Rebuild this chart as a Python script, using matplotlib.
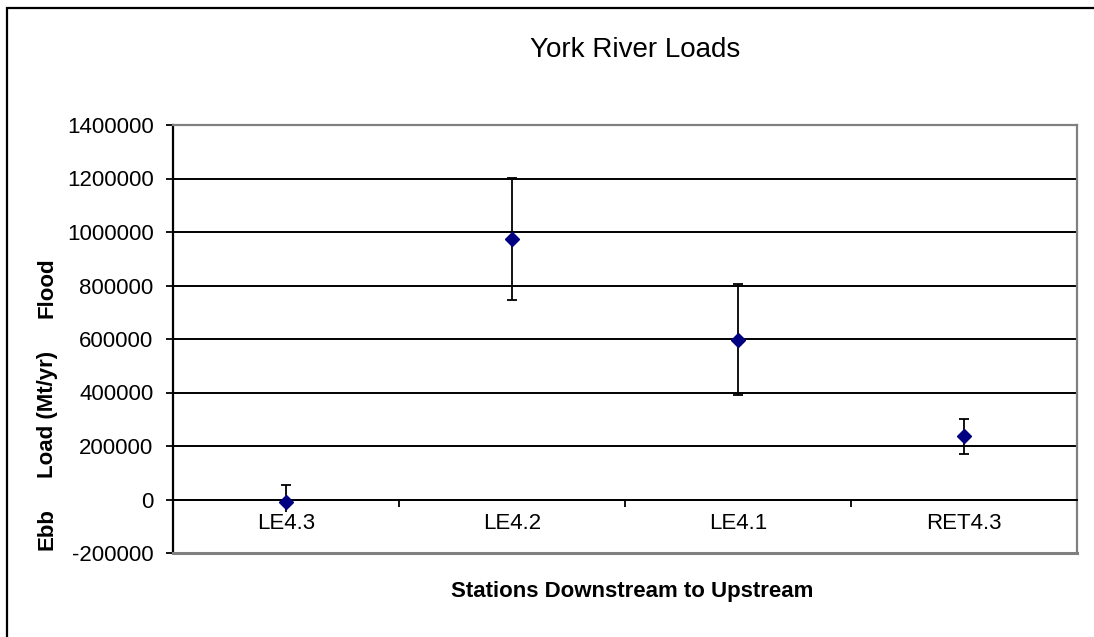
import matplotlib
matplotlib.use("Agg")
import matplotlib.pyplot as plt
from matplotlib.patches import Rectangle
from matplotlib.ticker import FixedLocator, NullFormatter

plt.rcParams['font.family'] = ['Liberation Sans', 'DejaVu Sans']

# Data
stations = ["LE4.3", "LE4.2", "LE4.1", "RET4.3"]
loads = [-10000, 975000, 598000, 236000]
errors = [66000, 228000, 208000, 65000]
y_ticks = [-200000, 0, 200000, 400000, 600000, 800000, 1000000, 1200000, 1400000]

W, H = 1094, 637
fig = plt.figure(figsize=(W / 100, H / 100), dpi=100)
ax = fig.add_axes([173 / W, 1 - 553 / H, (1077 - 173) / W, (553 - 125) / H])

x = list(range(len(stations)))
ax.errorbar(x, loads, yerr=errors, fmt='none', ecolor='black', elinewidth=1.3,
            capsize=3.8, capthick=1.3, zorder=2.2)
ax.plot(x, loads, linestyle='none', marker='D', markersize=7.5,
        color='#000080', markeredgecolor='#000080', zorder=4)

ax.set_xlim(-0.5, len(stations) - 0.5)
ax.set_ylim(y_ticks[0], y_ticks[-1])
ax.set_yticks(y_ticks)
ax.set_yticklabels([str(v) for v in y_ticks])

# grid lines (interior only)
for v in y_ticks[1:-1]:
    ax.axhline(v, color='black', lw=1.4, zorder=1)

# x axis at zero
ax.spines['bottom'].set_position(('data', 0))
ax.spines['bottom'].set_color('black')
ax.spines['bottom'].set_linewidth(1.4)
ax.spines['left'].set_color('black')
ax.spines['left'].set_linewidth(1.6)
for s in ['top', 'right']:
    ax.spines[s].set_color('#808080')
    ax.spines[s].set_linewidth(1.6)
# bottom border of plot area (gray)
ax.axhline(y_ticks[0], color='#808080', lw=2.2, zorder=5, clip_on=False)

# x ticks: boundaries as major ticks; category labels drawn as text with white background
bounds = [i + 0.5 for i in range(len(stations) - 1)]
ax.xaxis.set_major_locator(FixedLocator(bounds))
ax.xaxis.set_major_formatter(NullFormatter())
ax.tick_params(axis='x', which='major', direction='out', length=5, width=1.3, color='black')
for i, name in zip(x, stations):
    ax.annotate(name, (i, 0), xytext=(0, -17), textcoords='offset points',
                ha='center', va='center', fontsize=16, zorder=6, annotation_clip=False,
                bbox=dict(facecolor='white', edgecolor='none', pad=0.5))
ax.tick_params(axis='y', direction='out', length=5, width=1.3, pad=9, labelsize=16, color='black')

# Titles and labels
fig.text(635 / W, 1 - 50 / H, "York River Loads", ha='center', va='center', fontsize=20)
fig.text(632 / W, 1 - 591 / H, "Stations Downstream to Upstream", ha='center', va='center',
         fontsize=16, fontweight='bold')
fig.text(47 / W, 1 - 529 / H, "Ebb", ha='center', va='center', rotation=90,
         fontsize=16, fontweight='bold')
fig.text(47 / W, 1 - 414 / H, "Load (Mt/yr)", ha='center', va='center', rotation=90,
         fontsize=16, fontweight='bold')
fig.text(47 / W, 1 - 288 / H, "Flood", ha='center', va='center', rotation=90,
         fontsize=16, fontweight='bold')

# outer border
fig.patches.append(Rectangle((7 / W, -0.1), 2, 1 - 8 / H + 0.1, transform=fig.transFigure,
                             fill=False, edgecolor='black', lw=1.6, clip_on=False))

fig.savefig("out.png", dpi=100)
